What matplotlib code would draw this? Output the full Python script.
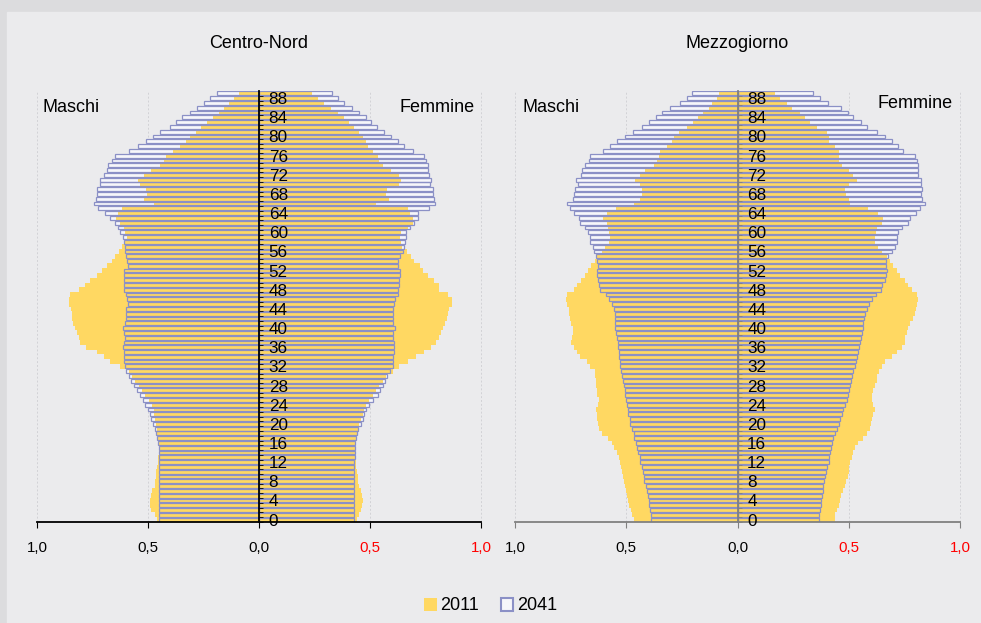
import numpy as np
import matplotlib
matplotlib.use("Agg")
import matplotlib.pyplot as plt
from matplotlib.patches import Patch, Rectangle

plt.rcParams['font.family'] = ['Liberation Sans', 'DejaVu Sans']

# quote di popolazione per singolo anno di eta' (0-89), valori in %
eta = np.arange(90)

cn_maschi_2011 = [0.46, 0.47, 0.485, 0.49, 0.49, 0.485, 0.48, 0.47, 0.47, 0.465,
                  0.465, 0.46, 0.455, 0.455, 0.452, 0.452, 0.453, 0.456, 0.459, 0.459,
                  0.462, 0.467, 0.471, 0.474, 0.482, 0.497, 0.512, 0.527, 0.542, 0.557,
                  0.572, 0.587, 0.625, 0.67, 0.697, 0.73, 0.779, 0.806, 0.813, 0.82,
                  0.831, 0.836, 0.843, 0.843, 0.848, 0.858, 0.858, 0.85, 0.81, 0.783,
                  0.763, 0.73, 0.708, 0.685, 0.663, 0.647, 0.632, 0.617, 0.602, 0.595,
                  0.602, 0.61, 0.625, 0.643, 0.637, 0.617, 0.471, 0.52, 0.505, 0.507,
                  0.538, 0.547, 0.52, 0.486, 0.447, 0.43, 0.417, 0.387, 0.354, 0.33,
                  0.309, 0.286, 0.26, 0.233, 0.206, 0.18, 0.158, 0.135, 0.113, 0.09]
cn_femmine_2011 = [0.44, 0.45, 0.46, 0.465, 0.468, 0.465, 0.46, 0.45, 0.447, 0.445,
                   0.44, 0.437, 0.435, 0.433, 0.432, 0.432, 0.434, 0.437, 0.44, 0.444,
                   0.452, 0.459, 0.467, 0.471, 0.482, 0.497, 0.512, 0.527, 0.542, 0.557,
                   0.572, 0.602, 0.632, 0.67, 0.708, 0.745, 0.776, 0.798, 0.813, 0.82,
                   0.828, 0.836, 0.848, 0.85, 0.858, 0.869, 0.869, 0.85, 0.813, 0.813,
                   0.79, 0.76, 0.738, 0.723, 0.70, 0.685, 0.667, 0.643, 0.64, 0.637,
                   0.64, 0.67, 0.693, 0.693, 0.678, 0.67, 0.527, 0.587, 0.572, 0.577,
                   0.632, 0.64, 0.632, 0.595, 0.557, 0.542, 0.538, 0.512, 0.49, 0.48,
                   0.47, 0.45, 0.43, 0.407, 0.384, 0.354, 0.324, 0.294, 0.267, 0.24]
cn_maschi_2041 = [0.45, 0.45, 0.45, 0.45, 0.45, 0.45, 0.45, 0.45, 0.45, 0.45,
                  0.45, 0.45, 0.45, 0.451, 0.452, 0.452, 0.455, 0.458, 0.462, 0.467,
                  0.477, 0.485, 0.492, 0.501, 0.512, 0.523, 0.538, 0.55, 0.565, 0.577,
                  0.584, 0.598, 0.605, 0.61, 0.61, 0.61, 0.613, 0.607, 0.605, 0.607,
                  0.613, 0.602, 0.6, 0.6, 0.598, 0.592, 0.595, 0.598, 0.61, 0.61,
                  0.61, 0.607, 0.607, 0.59, 0.595, 0.598, 0.602, 0.605, 0.61, 0.613,
                  0.625, 0.633, 0.648, 0.673, 0.693, 0.723, 0.742, 0.733, 0.73, 0.73,
                  0.718, 0.715, 0.70, 0.685, 0.68, 0.663, 0.647, 0.587, 0.547, 0.51,
                  0.477, 0.444, 0.40, 0.373, 0.346, 0.31, 0.279, 0.25, 0.22, 0.19]
cn_femmine_2041 = [0.43, 0.43, 0.43, 0.43, 0.43, 0.43, 0.43, 0.43, 0.43, 0.43,
                   0.43, 0.43, 0.43, 0.431, 0.432, 0.432, 0.434, 0.437, 0.44, 0.447,
                   0.459, 0.467, 0.474, 0.482, 0.497, 0.512, 0.535, 0.547, 0.557, 0.568,
                   0.577, 0.592, 0.602, 0.605, 0.605, 0.607, 0.61, 0.607, 0.605, 0.605,
                   0.613, 0.605, 0.602, 0.602, 0.602, 0.607, 0.613, 0.625, 0.628, 0.632,
                   0.632, 0.635, 0.637, 0.625, 0.625, 0.637, 0.648, 0.652, 0.658, 0.663,
                   0.663, 0.678, 0.70, 0.718, 0.715, 0.768, 0.794, 0.788, 0.783, 0.783,
                   0.772, 0.775, 0.768, 0.763, 0.76, 0.753, 0.745, 0.693, 0.655, 0.628,
                   0.595, 0.565, 0.53, 0.504, 0.48, 0.45, 0.417, 0.384, 0.357, 0.33]

mz_maschi_2011 = [0.463, 0.472, 0.478, 0.487, 0.493, 0.497, 0.501, 0.507, 0.512, 0.516,
                  0.519, 0.522, 0.527, 0.534, 0.542, 0.557, 0.564, 0.582, 0.609, 0.624,
                  0.627, 0.632, 0.632, 0.636, 0.627, 0.624, 0.632, 0.632, 0.636, 0.636,
                  0.639, 0.642, 0.662, 0.677, 0.707, 0.722, 0.737, 0.747, 0.744, 0.741,
                  0.741, 0.747, 0.751, 0.756, 0.759, 0.766, 0.771, 0.766, 0.737, 0.722,
                  0.702, 0.684, 0.672, 0.657, 0.642, 0.632, 0.609, 0.594, 0.579, 0.572,
                  0.579, 0.582, 0.587, 0.606, 0.587, 0.546, 0.467, 0.437, 0.43, 0.43,
                  0.437, 0.46, 0.44, 0.415, 0.377, 0.362, 0.355, 0.347, 0.317, 0.295,
                  0.287, 0.265, 0.228, 0.202, 0.178, 0.156, 0.13, 0.115, 0.093, 0.081]
mz_femmine_2011 = [0.436, 0.439, 0.446, 0.454, 0.461, 0.466, 0.473, 0.481, 0.488, 0.496,
                   0.499, 0.501, 0.506, 0.513, 0.521, 0.528, 0.54, 0.566, 0.581, 0.596,
                   0.60, 0.603, 0.611, 0.618, 0.611, 0.606, 0.603, 0.611, 0.618, 0.626,
                   0.626, 0.638, 0.648, 0.663, 0.693, 0.716, 0.738, 0.753, 0.753, 0.76,
                   0.768, 0.775, 0.79, 0.798, 0.801, 0.805, 0.81, 0.805, 0.783, 0.768,
                   0.753, 0.731, 0.716, 0.70, 0.686, 0.671, 0.648, 0.63, 0.618, 0.618,
                   0.621, 0.626, 0.648, 0.656, 0.63, 0.588, 0.506, 0.499, 0.487, 0.481,
                   0.501, 0.536, 0.521, 0.499, 0.469, 0.458, 0.458, 0.454, 0.436, 0.412,
                   0.409, 0.40, 0.356, 0.326, 0.304, 0.281, 0.244, 0.222, 0.192, 0.169]
mz_maschi_2041 = [0.388, 0.389, 0.392, 0.397, 0.40, 0.403, 0.407, 0.412, 0.418, 0.421,
                  0.425, 0.43, 0.437, 0.44, 0.445, 0.452, 0.457, 0.463, 0.467, 0.475,
                  0.482, 0.485, 0.49, 0.493, 0.497, 0.501, 0.504, 0.507, 0.512, 0.516,
                  0.519, 0.522, 0.527, 0.527, 0.531, 0.534, 0.537, 0.539, 0.542, 0.546,
                  0.549, 0.549, 0.549, 0.552, 0.557, 0.564, 0.576, 0.591, 0.617, 0.621,
                  0.627, 0.632, 0.632, 0.627, 0.632, 0.636, 0.647, 0.651, 0.662, 0.662,
                  0.672, 0.684, 0.707, 0.714, 0.737, 0.751, 0.765, 0.741, 0.735, 0.732,
                  0.717, 0.725, 0.704, 0.699, 0.687, 0.669, 0.662, 0.605, 0.572, 0.542,
                  0.504, 0.47, 0.427, 0.40, 0.365, 0.34, 0.302, 0.26, 0.228, 0.205]
mz_femmine_2041 = [0.367, 0.368, 0.371, 0.374, 0.376, 0.379, 0.383, 0.386, 0.391, 0.394,
                   0.397, 0.401, 0.409, 0.412, 0.416, 0.421, 0.424, 0.431, 0.439, 0.446,
                   0.454, 0.461, 0.469, 0.476, 0.484, 0.491, 0.496, 0.499, 0.506, 0.51,
                   0.513, 0.521, 0.528, 0.531, 0.536, 0.543, 0.548, 0.551, 0.555, 0.561,
                   0.566, 0.566, 0.567, 0.573, 0.581, 0.591, 0.603, 0.621, 0.645, 0.651,
                   0.663, 0.668, 0.674, 0.668, 0.668, 0.675, 0.693, 0.708, 0.716, 0.716,
                   0.723, 0.738, 0.765, 0.775, 0.801, 0.82, 0.843, 0.828, 0.825, 0.828,
                   0.825, 0.825, 0.813, 0.813, 0.81, 0.805, 0.798, 0.746, 0.72, 0.693,
                   0.663, 0.626, 0.581, 0.555, 0.521, 0.496, 0.464, 0.406, 0.371, 0.341]

x_ticks = [-1.0, -0.5, 0.0, 0.5, 1.0]
x_labels = ["1,0", "0,5", "0,0", "0,5", "1,0"]
age_ticks = np.arange(0, 90, 4)

GIALLO = '#ffd862'
BLU = '#8b90c6'
FONDO = '#ebebed'


def pyramid(ax, m11, f11, m41, f41, title, col_asse):
    """Draw one population pyramid (males on the left, females on the right)."""
    m11, f11 = np.asarray(m11), np.asarray(f11)
    m41, f41 = np.asarray(m41), np.asarray(f41)
    # 2041: white fill below the 2011 bars, blue outline above them
    ax.barh(eta, -m41, height=0.8, color='#f6f6fa', lw=0, zorder=1)
    ax.barh(eta, f41, height=0.8, color='#f6f6fa', lw=0, zorder=1)
    ax.barh(eta, -m11, height=1.0, color=GIALLO, lw=0, zorder=2)
    ax.barh(eta, f11, height=1.0, color=GIALLO, lw=0, zorder=2)
    ax.barh(eta, -m41, height=0.8, fill=False, edgecolor=BLU, lw=0.9, zorder=3)
    ax.barh(eta, f41, height=0.8, fill=False, edgecolor=BLU, lw=0.9, zorder=3)

    ax.set_xlim(-1, 1)
    ax.set_ylim(-0.5, 89.5)
    ax.set_facecolor(FONDO)
    for xv in x_ticks:
        if xv != 0:
            ax.axvline(xv, color='#d2d2d6', lw=0.7, ls=(0, (2, 2)), zorder=0, clip_on=False)

    # age axis drawn on the central spine, above the bars
    for s in ['top', 'left']:
        ax.spines[s].set_visible(False)
    ax.spines['right'].set_position(('data', 0))
    ax.spines['right'].set_color(col_asse)
    ax.spines['right'].set_linewidth(1.3)
    ax.spines['right'].set_zorder(4)
    ax.spines['bottom'].set_color(col_asse)
    ax.spines['bottom'].set_linewidth(1.3)
    ax.spines['bottom'].set_zorder(4)
    ax.yaxis.set_zorder(5)
    ax.xaxis.set_zorder(5)
    ax.yaxis.set_ticks_position('right')
    ax.set_yticks(age_ticks)
    ax.set_yticklabels([str(a) for a in age_ticks], fontsize=12.3)
    ax.set_yticks(np.arange(90) - 0.5, minor=True)
    ax.tick_params(axis='y', which='major', length=0, pad=7)
    ax.tick_params(axis='y', which='minor', length=3, color=col_asse, direction='out')

    ax.set_xticks(x_ticks)
    ax.set_xticklabels(x_labels, fontsize=10.8)
    ax.tick_params(axis='x', length=4, color=col_asse, pad=10)
    for lab in ax.get_xticklabels()[3:]:
        lab.set_color('red')

    ax.set_title(title, fontsize=13, pad=31)


fig = plt.figure(figsize=(9.81, 6.23), dpi=100)
fig.patch.set_facecolor('#dcdcde')
fig.patches.append(Rectangle((7 / 981, 0), 1, 1 - 12 / 623, transform=fig.transFigure,
                             color=FONDO, zorder=-10))

ax1 = fig.add_axes([37 / 981, 1 - 522 / 623, 444 / 981, 431 / 623])
ax2 = fig.add_axes([515 / 981, 1 - 522 / 623, 445 / 981, 431 / 623])

pyramid(ax1, cn_maschi_2011, cn_femmine_2011, cn_maschi_2041, cn_femmine_2041,
        "Centro-Nord", 'black')
pyramid(ax2, mz_maschi_2011, mz_femmine_2011, mz_maschi_2041, mz_femmine_2041,
        "Mezzogiorno", '#808080')

fig.text(43 / 981, 1 - 107 / 623, "Maschi", fontsize=13, va='center')
fig.text(475 / 981, 1 - 107 / 623, "Femmine", fontsize=13, va='center', ha='right')
fig.text(522 / 981, 1 - 108 / 623, "Maschi", fontsize=13, va='center')
fig.text(953 / 981, 1 - 104 / 623, "Femmine", fontsize=13, va='center', ha='right')

handles = [Patch(facecolor=GIALLO, edgecolor='none'),
           Patch(facecolor='#f6f6fa', edgecolor=BLU, lw=1.5)]
fig.legend(handles, ["2011", "2041"], loc='center', bbox_to_anchor=(0.5, 1 - 606 / 623),
           ncol=2, frameon=False, fontsize=13, handlelength=0.7, handleheight=0.7,
           handletextpad=0.2, columnspacing=1.2)

fig.savefig("out.png", dpi=100, facecolor=fig.get_facecolor())
